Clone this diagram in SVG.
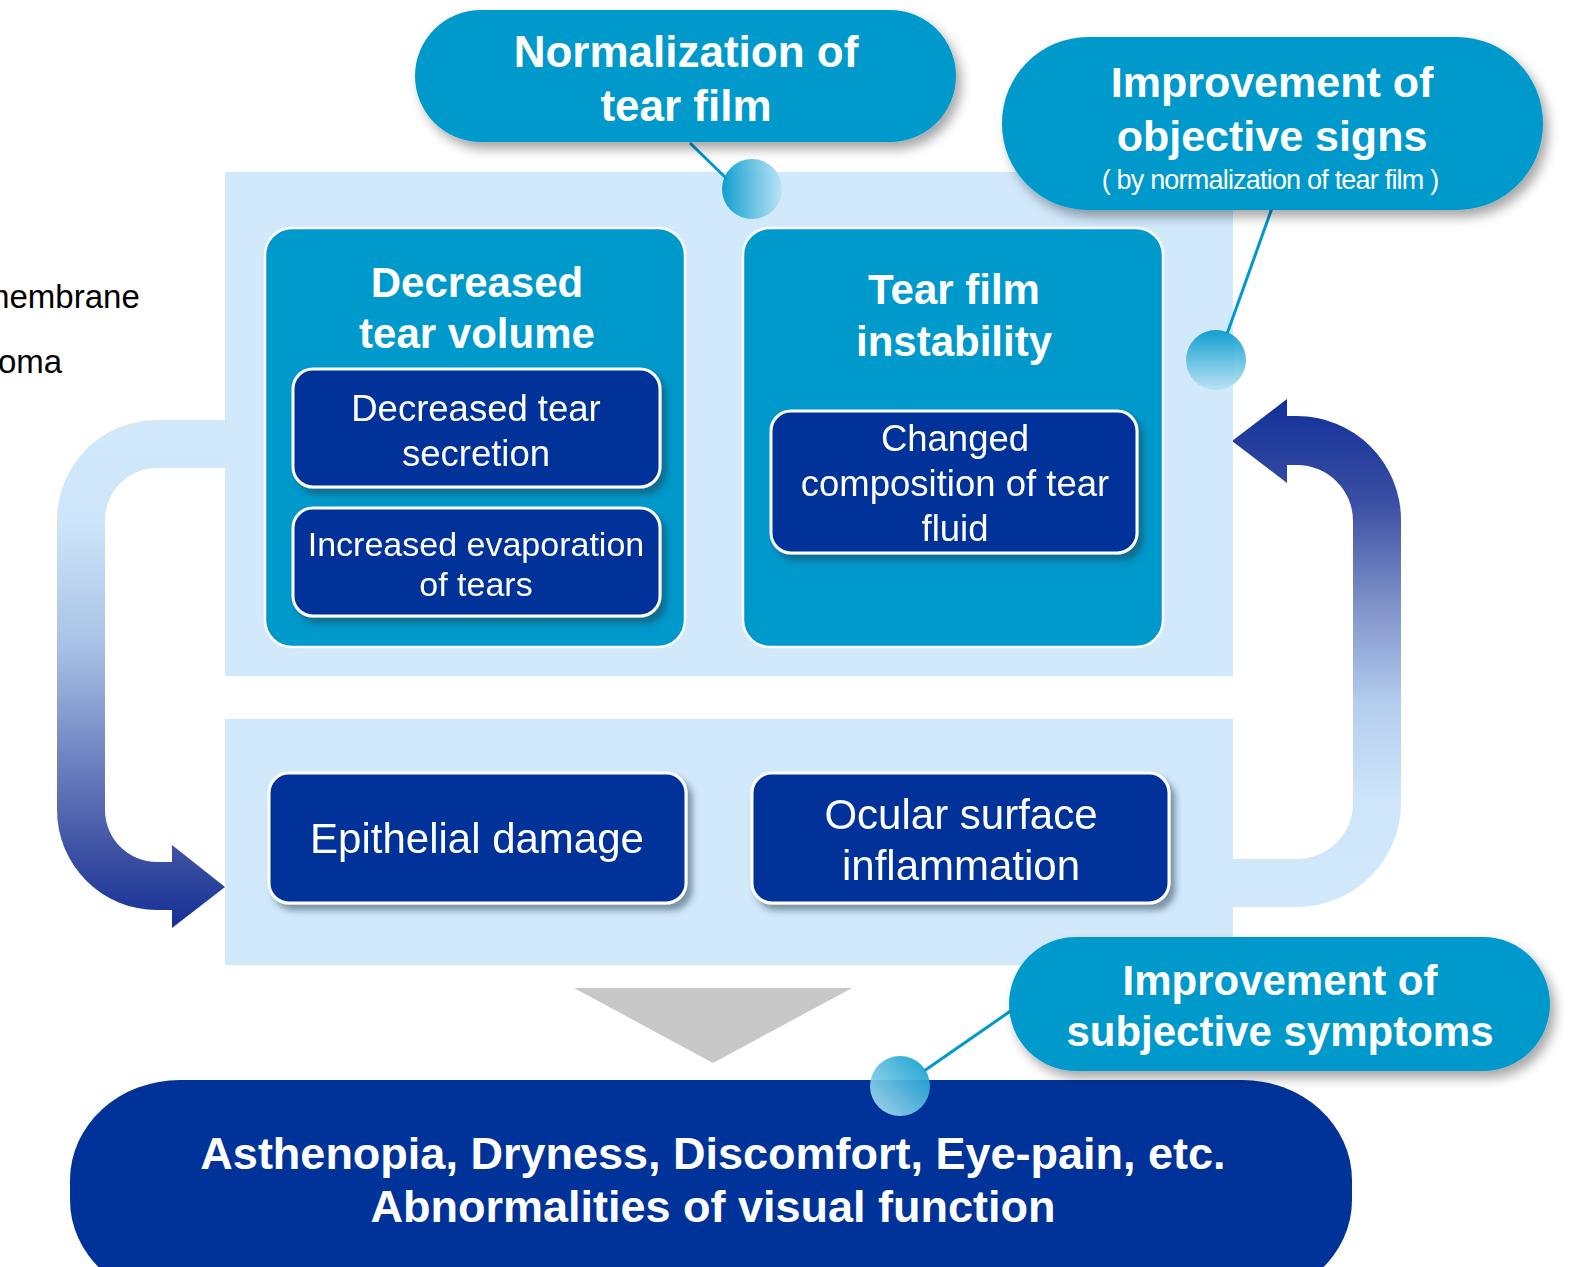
<svg xmlns="http://www.w3.org/2000/svg" width="1573" height="1267" viewBox="0 0 1573 1267">
<defs>
<style>
.panel{fill:#d1e9fb}
.mid{fill:#0099cc;stroke:#fff;stroke-width:2.5}
.navy{fill:#003399;stroke:#fff;stroke-width:3}
.balloon{fill:#0099cc}
.tb{font-family:"Liberation Sans",Arial,sans-serif;font-weight:bold;fill:#fff;text-anchor:middle}
.tr{font-family:"Liberation Sans",Arial,sans-serif;fill:#fff;text-anchor:middle}
.side{font-family:"Liberation Sans",Arial,sans-serif;fill:#000;font-size:33px}
.lead{stroke:#0099cc;stroke-width:3;fill:none}
</style>
<linearGradient id="gLeft" gradientUnits="userSpaceOnUse" x1="0" y1="420" x2="0" y2="928">
<stop offset="0" stop-color="#d1e9fb"/>
<stop offset="0.2" stop-color="#cde5f9"/>
<stop offset="0.45" stop-color="#a8c0e4"/>
<stop offset="0.65" stop-color="#7487c3"/>
<stop offset="0.85" stop-color="#3d51a3"/>
<stop offset="1" stop-color="#142f96"/>
</linearGradient>
<linearGradient id="gRight" gradientUnits="userSpaceOnUse" x1="0" y1="399" x2="0" y2="907">
<stop offset="0" stop-color="#10309a"/>
<stop offset="0.2" stop-color="#3a4ea2"/>
<stop offset="0.4" stop-color="#7d90c8"/>
<stop offset="0.6" stop-color="#b5cdee"/>
<stop offset="0.8" stop-color="#cfe6fa"/>
<stop offset="1" stop-color="#d1e9fb"/>
</linearGradient>
<linearGradient id="dotH" x1="0" y1="0" x2="1" y2="0">
<stop offset="0" stop-color="#0099cc"/>
<stop offset="1" stop-color="#b8e2f4"/>
</linearGradient>
<linearGradient id="dotV" x1="0" y1="0" x2="0" y2="1">
<stop offset="0" stop-color="#0099cc"/>
<stop offset="1" stop-color="#b8e2f4"/>
</linearGradient>
<linearGradient id="dotD" x1="1" y1="0" x2="0" y2="1">
<stop offset="0" stop-color="#0099cc"/>
<stop offset="1" stop-color="#b8e2f4"/>
</linearGradient>
<filter id="shB" x="-10%" y="-20%" width="130%" height="150%">
<feDropShadow dx="5" dy="7" stdDeviation="6" flood-color="#000" flood-opacity="0.35"/>
</filter>
<filter id="shS" x="-10%" y="-20%" width="130%" height="150%">
<feDropShadow dx="5" dy="6" stdDeviation="3" flood-color="#1a3a50" flood-opacity="0.5"/>
</filter>
</defs>

<g id="side-text">
<text class="side" x="-18" y="308">membrane</text>
<text class="side" x="-2" y="373">oma</text>
</g>

<g id="connectors">
<path id="loop-left" fill="url(#gLeft)" d="M228 420 L157 420 A100 100 0 0 0 57 520 L57 810 A100 100 0 0 0 157 910 L172 910 L172 928 L225 887 L172 845 L172 862 L157 862 A52 52 0 0 1 105 810 L105 520 A52 52 0 0 1 157 468 L228 468 Z"/>
<path id="loop-right" fill="url(#gRight)" d="M1230 907 L1297 907 A104 104 0 0 0 1401 803 L1401 520 A104 104 0 0 0 1297 416 L1287 416 L1287 399 L1232 441 L1287 483 L1287 465 L1297 465 A56 56 0 0 1 1353 521 L1353 803 A56 56 0 0 1 1297 859 L1230 859 Z"/>
<polygon id="down-arrow" points="574,988 852,988 713,1063" fill="#c8c8c8"/>
</g>

<g id="panel-top"><rect class="panel" x="225" y="172" width="1008" height="504"/></g>
<g id="panel-bottom"><rect class="panel" x="225" y="719" width="1008" height="246"/></g>

<g id="decreased-tear-volume">
<rect class="mid" x="265" y="228" width="420" height="419" rx="27"/>
<text class="tb" font-size="42" x="477" y="297">Decreased</text>
<text class="tb" font-size="42" x="477" y="348">tear volume</text>
</g>
<g id="decreased-tear-secretion" filter="url(#shS)">
<rect class="navy" x="293" y="369" width="367" height="118" rx="20"/>
<text class="tr" font-size="36.5" x="476" y="421">Decreased tear</text>
<text class="tr" font-size="36.5" x="476" y="466">secretion</text>
</g>
<g id="increased-evaporation" filter="url(#shS)">
<rect class="navy" x="293" y="508" width="367" height="108" rx="20"/>
<text class="tr" font-size="34" x="476" y="556">Increased evaporation</text>
<text class="tr" font-size="34" x="476" y="596">of tears</text>
</g>

<g id="tear-film-instability">
<rect class="mid" x="743" y="228" width="420" height="419" rx="27"/>
<text class="tb" font-size="42" x="954" y="304">Tear film</text>
<text class="tb" font-size="42" x="954" y="356">instability</text>
</g>
<g id="changed-composition" filter="url(#shS)">
<rect class="navy" x="771" y="411" width="366" height="142" rx="20"/>
<text class="tr" font-size="36.5" x="955" y="451">Changed</text>
<text class="tr" font-size="36.5" x="955" y="496">composition of tear</text>
<text class="tr" font-size="36.5" x="955" y="541">fluid</text>
</g>

<g id="epithelial-damage" filter="url(#shS)">
<rect class="navy" x="269" y="773" width="417" height="130" rx="20"/>
<text class="tr" font-size="42" x="477" y="853">Epithelial damage</text>
</g>
<g id="ocular-surface-inflammation" filter="url(#shS)">
<rect class="navy" x="752" y="773" width="417" height="130" rx="20"/>
<text class="tr" font-size="42" x="961" y="829">Ocular surface</text>
<text class="tr" font-size="42" x="961" y="880">inflammation</text>
</g>

<g id="symptoms">
<rect x="70" y="1080" width="1282" height="220" rx="110" ry="100" fill="#003399"/>
<text class="tb" font-size="45" x="713" y="1169">Asthenopia, Dryness, Discomfort, Eye-pain, etc.</text>
<text class="tb" font-size="45" x="713" y="1222">Abnormalities of visual function</text>
</g>

<g id="callout-leads">
<line class="lead" x1="690" y1="143" x2="728" y2="180"/>
<line class="lead" x1="1272" y1="208" x2="1227" y2="334"/>
<line class="lead" x1="1012" y1="1010" x2="924" y2="1071"/>
</g>

<g id="normalization-of-tear-film">
<rect class="balloon" x="415" y="10" width="541" height="132" rx="66" filter="url(#shB)"/>
<text class="tb" font-size="44" x="686" y="67">Normalization of</text>
<text class="tb" font-size="44" x="686" y="121">tear film</text>
</g>
<g id="improvement-objective-signs">
<rect class="balloon" x="1002" y="37" width="541" height="173" rx="86" filter="url(#shB)"/>
<text class="tb" font-size="43" x="1272" y="97">Improvement of</text>
<text class="tb" font-size="43" x="1272" y="151">objective signs</text>
<text class="tr" font-size="27" letter-spacing="-0.8" x="1270" y="189">( by normalization of tear film )</text>
</g>
<g id="improvement-subjective-symptoms">
<rect class="balloon" x="1009" y="937" width="541" height="134" rx="67" filter="url(#shB)"/>
<text class="tb" font-size="42" x="1280" y="995">Improvement of</text>
<text class="tb" font-size="42" x="1280" y="1046">subjective symptoms</text>
</g>

<g id="callout-dots" opacity="0.92">
<circle cx="752" cy="189" r="30" fill="url(#dotH)"/>
<circle cx="1216" cy="360" r="30" fill="url(#dotV)"/>
<circle cx="900" cy="1086" r="30" fill="url(#dotD)"/>
</g>
</svg>
